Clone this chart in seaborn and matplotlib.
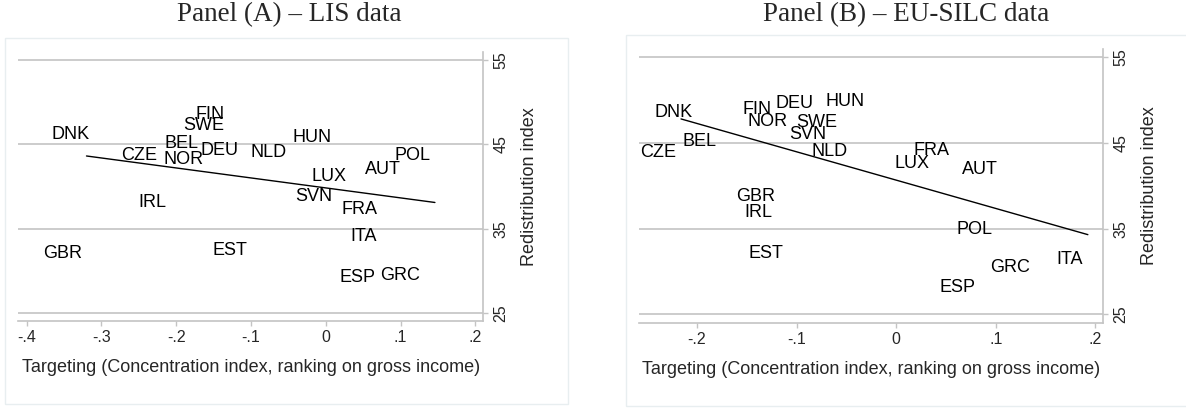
import matplotlib
matplotlib.use('Agg')
import matplotlib.pyplot as plt
from matplotlib.patches import Rectangle
import pandas as pd
import seaborn as sns

sns.set_style('white')
plt.rcParams['font.family'] = ['Liberation Sans', 'DejaVu Sans']

# Panel (A) - LIS data
lis_country = ['DNK', 'GBR', 'FIN', 'SWE', 'BEL', 'DEU', 'CZE', 'NOR', 'NLD', 'HUN',
               'POL', 'AUT', 'LUX', 'SVN', 'IRL', 'FRA', 'ITA', 'EST', 'ESP', 'GRC']
lis_target = [-0.309, -0.320, -0.129, -0.130, -0.164, -0.110, -0.219, -0.157, -0.046, 0.014,
              0.146, 0.107, 0.034, 0.015, -0.207, 0.076, 0.075, -0.099, 0.073, 0.132]
lis_redist = [46.4, 32.3, 48.8, 47.4, 45.3, 44.5, 43.9, 43.4, 44.3, 46.0,
              43.9, 42.2, 41.4, 39.1, 38.3, 37.55, 34.3, 32.6, 29.5, 29.7]

# Panel (B) - EU-SILC data
silc_country = ['DNK', 'CZE', 'BEL', 'FIN', 'DEU', 'HUN', 'NOR', 'SWE', 'SVN', 'NLD',
                'FRA', 'LUX', 'AUT', 'GBR', 'IRL', 'POL', 'EST', 'ITA', 'GRC', 'ESP']
silc_target = [-0.200, -0.216, -0.176, -0.120, -0.078, -0.027, -0.104, -0.054, -0.065, -0.044,
               0.058, 0.038, 0.107, -0.117, -0.120, 0.101, -0.108, 0.1925, 0.139, 0.084]
silc_redist = [48.8, 44.1, 45.4, 49.2, 49.8, 50.1, 47.7, 47.6, 46.2, 44.3,
               44.4, 42.8, 42.2, 39.0, 37.1, 35.1, 32.4, 31.7, 30.7, 28.4]

x_ticks_a = [-0.4, -0.3, -0.2, -0.1, 0, 0.1, 0.2]
x_labels_a = ['-.4', '-.3', '-.2', '-.1', '0', '.1', '.2']
x_ticks_b = [-0.2, -0.1, 0, 0.1, 0.2]
x_labels_b = ['-.2', '-.1', '0', '.1', '.2']
y_ticks = [25, 35, 45, 55]

W, H = 1186, 408
fig = plt.figure(figsize=(W / 100, H / 100), dpi=100)

# light frames around each panel (Stata graph region)
for (x0, y0, x1, y1) in [(5, 38, 568, 404), (626, 35, 1190, 406)]:
    fig.patches.append(Rectangle((x0 / W, 1 - y1 / H), (x1 - x0) / W, (y1 - y0) / H,
                                 transform=fig.transFigure, fill=False,
                                 edgecolor='#e8eef0', linewidth=1.0))

panels = [
    ('Panel (A) \u2013 LIS data', lis_country, lis_target, lis_redist,
     [18.3, 51.7, 483, 321.3], (-0.4112, 0.2103), x_ticks_a, x_labels_a, 289),
    ('Panel (B) \u2013 EU-SILC data', silc_country, silc_target, silc_redist,
     [639, 49.3, 1103.3, 322.7], (-0.2582, 0.208), x_ticks_b, x_labels_b, 906),
]

grey = '#c4c4c4'
for title, ctry, tx, ry, box, xlim, xt, xl, tcx in panels:
    df = pd.DataFrame({'country': ctry, 'targeting': tx, 'redistribution': ry})
    l, t, r, b = box
    ax = fig.add_axes([l / W, 1 - b / H, (r - l) / W, (b - t) / H])

    sns.regplot(data=df, x='targeting', y='redistribution', ax=ax, scatter=False,
                ci=None, color='black', line_kws={'linewidth': 1.0})
    for _, row in df.iterrows():
        ax.annotate(row['country'], (row['targeting'], row['redistribution']),
                    xytext=(-3.4, 0), textcoords='offset points',
                    ha='right', va='center_baseline', fontsize=13, color='black')

    ax.set_xlim(*xlim)
    ax.set_ylim(24.03, 55.95)
    ax.set_xticks(xt)
    ax.set_xticklabels(xl)
    ax.set_yticks(y_ticks)
    ax.yaxis.tick_right()
    ax.yaxis.set_label_position('right')
    ax.tick_params(axis='x', direction='out', length=3.5, width=1, color=grey,
                   labelsize=11.5, pad=3, bottom=True)
    ax.tick_params(axis='y', direction='out', length=3.5, width=1, color=grey,
                   labelsize=11.5, pad=4, right=True, left=False)
    for lab in ax.get_yticklabels():
        lab.set_rotation(90)
        lab.set_va('center')
    ax.grid(axis='y', color=grey, linewidth=1.2)
    ax.grid(axis='x', visible=False)
    for s in ['top', 'left']:
        ax.spines[s].set_visible(False)
    for s in ['bottom', 'right']:
        ax.spines[s].set_color(grey)
        ax.spines[s].set_linewidth(1.2)
    ax.set_xlabel('Targeting (Concentration index, ranking on gross income)',
                  fontsize=13, labelpad=10)
    ax.set_ylabel('Redistribution index', fontsize=13, labelpad=9)

    fig.text(tcx / W, 1 - 15 / H, title, ha='center', va='center',
             fontsize=19.5, family=['Liberation Serif', 'DejaVu Serif'])

fig.savefig('out.png', dpi=100)
